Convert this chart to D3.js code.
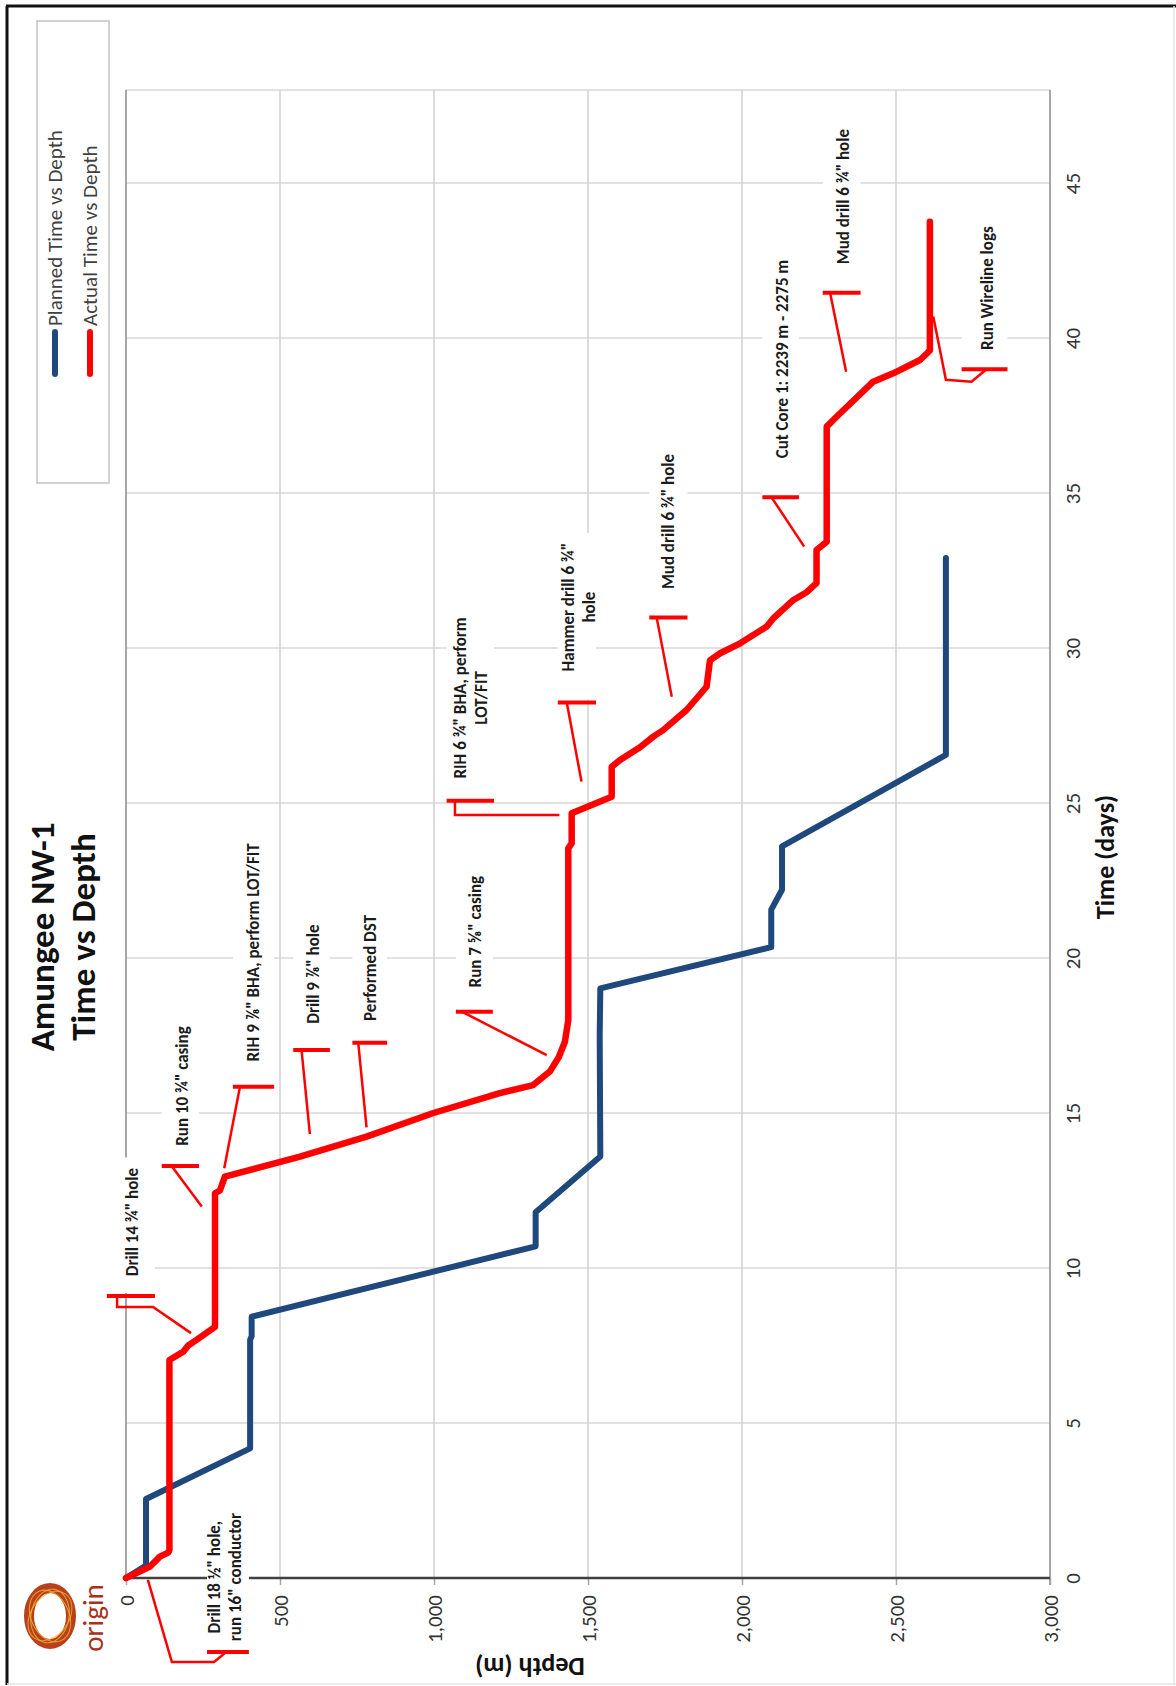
<!doctype html>
<meta charset="utf-8">
<title>Amungee NW-1 Time vs Depth</title>
<script src="https://cdn.jsdelivr.net/npm/d3@7"></script>
<style>
    body { margin: 0; background: #fff; }
    text { font-family: Carlito, Calibri, Lato, "Open Sans", sans-serif; }
</style>
<body>
<svg id="chart" width="1176" height="1686"></svg>

<script>

    // planned well: time (days) vs depth (m)
    var plannedTime  = [0, 0.4, 2.55, 4.18, 7.68, 7.8, 8.43, 10.7, 11.8, 13.6, 17.5, 19.02, 20.35, 21.56, 22.2, 23.6, 26.55, 32.9];
    var plannedDepth = [0, 65, 65, 403, 403, 408, 408, 1330, 1330, 1540, 1538, 1540, 2095, 2095, 2130, 2130, 2662, 2662];

    // actual well
    var actualTime  = [0, 0.37, 0.69, 0.82, 0.9, 7.03, 7.3, 7.5, 7.68, 8.1, 12.41, 12.5, 12.95, 13.59, 14.24, 15.0, 15.64, 15.9,
                       16.35, 16.8, 17.3, 18.0, 23.54, 23.7, 24.67, 25.2, 26.17, 26.39, 26.8, 27.14, 27.35, 28.0, 28.75, 29.6,
                       29.83, 30.15, 30.69, 30.96, 31.55, 31.8, 32.09, 33.16, 33.43, 37.14, 37.46, 38.59, 38.86, 39.29, 39.5, 39.6, 43.75];
    var actualDepth = [0, 78, 110, 137, 141, 141, 186, 202, 229, 289, 289, 305, 321, 565, 781, 998, 1214, 1322,
                       1377, 1405, 1425, 1436, 1436, 1447, 1447, 1577, 1577, 1604, 1669, 1712, 1744, 1820, 1885, 1896,
                       1929, 1994, 2080, 2102, 2167, 2210, 2242, 2242, 2275, 2275, 2307, 2426, 2491, 2578, 2600, 2610, 2610];

    var depthTicks = [0, 500, 1000, 1500, 2000, 2500, 3000];
    var timeTicks  = [0, 5, 10, 15, 20, 25, 30, 35, 40, 45];
    var seriesNames = ['Planned Time vs Depth', 'Actual Time vs Depth'];

    // operation notes: label, centre [depth, time], accent bar [depth0, depth1, time], leader points [depth, time]
    var noteLabels = [
        ['Drill 18 \u00bd" hole,', 'run 16" conductor'],
        ['Drill 14 \u00be" hole'],
        ['Run 10 \u00be" casing'],
        ['RIH 9 \u215e" BHA, perform LOT/FIT'],
        ['Drill 9 \u215e" hole'],
        ['Performed DST'],
        ['Run 7 \u215d" casing'],
        ['RIH 6 \u00be" BHA, perform', 'LOT/FIT'],
        ['Hammer drill 6 \u00be"', 'hole'],
        ['Mud drill 6 \u00be" hole'],
        ['Cut Core 1: 2239 m - 2275 m'],
        ['Mud drill 6 \u00be" hole'],
        ['Run Wireline logs']
    ];
    var noteAt = [[320, 0.03], [19.5, 11.48], [181, 15.87], [413, 20.18], [606, 19.48], [792, 19.68], [1133, 20.85],
                  [1120, 28.39], [1468, 31.32], [1761, 34.08], [2129, 39.32], [2327, 44.56], [2794, 41.61]];
    var noteBars = [[263, 399, -2.39], [-62, 94, 9.1], [116, 237, 13.29], [347, 481, 15.85], [543, 662, 17.03],
                    [735, 848, 17.27], [1071, 1191, 18.27], [1041, 1195, 25.07], [1402, 1526, 28.24], [1699, 1823, 30.98],
                    [2066, 2185, 34.86], [2262, 2385, 41.46], [2713, 2862, 38.99]];
    var noteLeaders = [
        [[325, -2.39], [286, -2.71], [149, -2.71], [71, -0.06]],
        [[-29, 9.1], [-29, 8.74], [88, 8.74], [211, 7.9]],
        [[148, 13.29], [246, 11.98]],
        [[370, 15.85], [319, 13.22]],
        [[570, 17.03], [597, 14.32]],
        [[754, 17.27], [781, 14.54]],
        [[1090, 18.27], [1366, 16.87]],
        [[1068, 25.07], [1068, 24.61], [1407, 24.61]],
        [[1431, 28.24], [1479, 25.69]],
        [[1723, 30.98], [1772, 28.43]],
        [[2096, 34.86], [2202, 33.27]],
        [[2286, 41.46], [2338, 38.91]],
        [[2794, 38.99], [2745, 38.59], [2662, 38.65], [2621, 40.69]]
    ];

    var blue = '#1f497d', red = '#ff0000';

    var svg = d3.select('#chart');

    // depth runs left to right, time runs bottom to top (the sheet is printed sideways)
    var x = d3.scaleLinear().domain([0, 3000]).range([126, 1050]);
    var y = d3.scaleLinear().domain([0, 48]).range([1578, 90]);

    // page frame
    svg.append('line').attr('x1', 7).attr('y1', 6).attr('x2', 7).attr('y2', 1685).attr('stroke', '#111').attr('stroke-width', 3);
    svg.append('line').attr('x1', 6).attr('y1', 6).attr('x2', 1176).attr('y2', 6).attr('stroke', '#111').attr('stroke-width', 3);
    svg.append('line').attr('x1', 1174).attr('y1', 6).attr('x2', 1174).attr('y2', 1685).attr('stroke', '#e4e4e4').attr('stroke-width', 1.5);
    svg.append('line').attr('x1', 7).attr('y1', 1684).attr('x2', 1176).attr('y2', 1684).attr('stroke', '#e4e4e4').attr('stroke-width', 1.5);

    // grid
    var grid = svg.append('g');
    grid.selectAll('line.hgrid')
            .data(timeTicks.filter(function(t) { return t > 0; }).concat([48]))
            .enter().append('line')
            .attr('x1', x(0)).attr('x2', x(3000))
            .attr('y1', function(d) { return y(d); }).attr('y2', function(d) { return y(d); })
            .attr('stroke', '#d9d9d9').attr('stroke-width', 1.5);
    grid.selectAll('line.vgrid')
            .data(depthTicks.filter(function(d) { return d > 0 && d < 3000; }))
            .enter().append('line')
            .attr('x1', function(d) { return x(d); }).attr('x2', function(d) { return x(d); })
            .attr('y1', y(0)).attr('y2', y(48))
            .attr('stroke', '#d0d0d0').attr('stroke-width', 1.5);

    grid.append('line').attr('x1', x(0)).attr('x2', x(0)).attr('y1', y(0)).attr('y2', y(48)).attr('stroke', '#a6a6a6').attr('stroke-width', 2);
    grid.append('line').attr('x1', x(3000)).attr('x2', x(3000)).attr('y1', y(0) + 7).attr('y2', y(48)).attr('stroke', '#a6a6a6').attr('stroke-width', 2);

    // depth axis along the bottom
    var depthAxis = svg.append('g')
            .attr('transform', 'translate(0,' + y(0) + ')')
            .call(d3.axisBottom(x).tickValues(depthTicks).tickFormat(d3.format(',')).tickSize(7));
    depthAxis.select('.domain').remove();
    depthAxis.selectAll('line').attr('stroke', '#a6a6a6').attr('stroke-width', 1.5);
    depthAxis.selectAll('text')
            .attr('transform', 'rotate(-90)')
            .attr('text-anchor', 'end')
            .attr('x', -17).attr('y', 0).attr('dy', '0.35em')
            .style('font-size', '21px').attr('fill', '#333');
    svg.append('line').attr('x1', x(0)).attr('x2', x(3000)).attr('y1', y(0)).attr('y2', y(0))
            .attr('stroke', '#404040').attr('stroke-width', 2.5);

    // time axis on the right
    var timeAxis = svg.append('g')
            .attr('transform', 'translate(' + x(3000) + ',0)')
            .call(d3.axisRight(y).tickValues(timeTicks).tickSize(0));
    timeAxis.select('.domain').remove();
    timeAxis.selectAll('text')
            .attr('transform', 'rotate(-90)')
            .attr('text-anchor', 'middle')
            .attr('x', 0).attr('y', 23).attr('dy', '0.35em')
            .style('font-size', '21px').attr('fill', '#333');

    // axis titles
    svg.append('text')
            .attr('transform', 'translate(1105,857) rotate(-90)')
            .attr('text-anchor', 'middle').attr('dy', '0.35em')
            .style('font-size', '26px').style('font-weight', 'bold').attr('fill', '#111')
            .text('Time (days)');
    svg.append('text')
            .attr('transform', 'translate(530,1667) rotate(180)')
            .attr('text-anchor', 'middle').attr('dy', '0.35em')
            .style('font-size', '26px').style('font-weight', 'bold').attr('fill', '#111')
            .text('Depth (m)');

    // chart title
    var title = svg.append('text')
            .attr('transform', 'translate(62,937) rotate(-90)')
            .attr('text-anchor', 'middle')
            .style('font-size', '35px').style('font-weight', 'bold').attr('fill', '#111');
    title.append('tspan').attr('x', 0).attr('y', -20).attr('dy', '0.35em').text('Amungee NW-1');
    title.append('tspan').attr('x', 0).attr('y', 21).attr('dy', '0.35em').text('Time vs Depth');

    // series
    var line = d3.line()
            .x(function(d) { return x(d[0]); })
            .y(function(d) { return y(d[1]); });

    svg.append('path')
            .datum(plannedDepth.map(function(d, i) { return [d, plannedTime[i]]; }))
            .attr('d', line)
            .attr('fill', 'none').attr('stroke', blue).attr('stroke-width', 6)
            .attr('stroke-linejoin', 'round').attr('stroke-linecap', 'round');

    svg.append('path')
            .datum(actualDepth.map(function(d, i) { return [d, actualTime[i]]; }))
            .attr('d', line)
            .attr('fill', 'none').attr('stroke', red).attr('stroke-width', 6.5)
            .attr('stroke-linejoin', 'round').attr('stroke-linecap', 'round');

    // rotated multi-line label centred on (cx, cy)
    function sideText(parent, cx, cy, lines, size, weight, lh, fill) {
        var g = parent.append('g').attr('transform', 'translate(' + cx + ',' + cy + ') rotate(-90)');
        var t = g.append('text')
                .attr('text-anchor', 'middle')
                .style('font-size', size + 'px')
                .style('font-weight', weight)
                .attr('fill', fill);
        lines.forEach(function(s, i) {
            t.append('tspan')
                    .attr('x', 0)
                    .attr('y', (i - (lines.length - 1) / 2) * lh)
                    .attr('dy', '0.35em')
                    .text(s);
        });
        return g;
    }

    // notes with callouts
    var notes = svg.append('g');
    noteLabels.forEach(function(lines, i) {
        var g = notes.append('g');
        var box = g.append('rect').attr('fill', '#fff');
        var cx = x(noteAt[i][0]), cy = y(noteAt[i][1]);
        var label = sideText(g, cx, cy, lines, 17, 'bold', 21, '#1b1b1b');
        var bb = label.node().getBBox();
        var top = cy - (bb.x + bb.width) - 10;
        var bar = noteBars[i];
        box.attr('x', x(bar[0])).attr('width', x(bar[1]) - x(bar[0]))
                .attr('y', top).attr('height', y(bar[2]) - 3 - top);

        g.append('line')
                .attr('x1', x(bar[0])).attr('x2', x(bar[1]))
                .attr('y1', y(bar[2])).attr('y2', y(bar[2]))
                .attr('stroke', red).attr('stroke-width', 4);
        g.append('path')
                .attr('d', line(noteLeaders[i]))
                .attr('fill', 'none').attr('stroke', red).attr('stroke-width', 2.5);
    });

    // legend
    var legend = svg.append('g');
    legend.append('rect')
            .attr('x', 37).attr('y', 21).attr('width', 72).attr('height', 462)
            .attr('fill', '#fff').attr('stroke', '#c4c4c4').attr('stroke-width', 1.5);
    [blue, red].forEach(function(c, i) {
        var lx = 55 + i * 35;
        legend.append('line')
                .attr('x1', lx).attr('x2', lx).attr('y1', 332).attr('y2', 374)
                .attr('stroke', c).attr('stroke-width', 6).attr('stroke-linecap', 'round');
        legend.append('text')
                .attr('transform', 'translate(' + lx + ',326) rotate(-90)')
                .attr('dy', '0.35em')
                .style('font-size', '21px').attr('fill', '#404040')
                .text(seriesNames[i]);
    });

    // company mark
    var logo = svg.append('g').attr('transform', 'translate(50,1616)');
    logo.append('ellipse').attr('rx', 21).attr('ry', 28)
            .attr('fill', 'none').attr('stroke', '#b8401d').attr('stroke-width', 10);
    [-25, 10, 35].forEach(function(a) {
        logo.append('ellipse').attr('rx', 19).attr('ry', 27).attr('transform', 'rotate(' + a + ')')
                .attr('fill', 'none').attr('stroke', '#f0b030').attr('stroke-width', 1.1).attr('opacity', 0.8);
    });
    svg.append('text')
            .attr('transform', 'translate(93,1618) rotate(-90)')
            .attr('text-anchor', 'middle').attr('dy', '0.35em')
            .style('font-size', '29px').attr('fill', '#a8301c')
            .text('origin');

</script>
</body>
</html>
